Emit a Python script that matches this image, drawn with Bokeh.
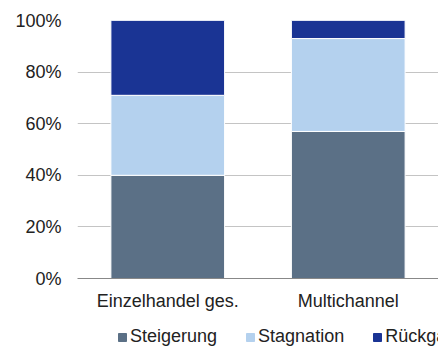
from bokeh.plotting import figure
from bokeh.layouts import column
from bokeh.models import FactorRange, Range1d, Legend, LegendItem, FixedTicker, NumeralTickFormatter, ColumnDataSource
from bokeh.embed import file_html
from bokeh.resources import INLINE

categories = ["Einzelhandel ges.", "Multichannel"]
series = ["Steigerung", "Stagnation", "Rückgang"]
steigerung = [0.40, 0.57]
stagnation = [0.31, 0.36]
rueckgang = [0.29, 0.07]
colors = ["#5B7086", "#B4D1EE", "#1A3494"]
y_ticks = [0, 0.2, 0.4, 0.6, 0.8, 1.0]

src = ColumnDataSource(dict(cat=categories, Steigerung=steigerung, Stagnation=stagnation, Rückgang=rueckgang))

p = figure(width=438, height=313,
           x_range=FactorRange(*categories, range_padding=0),
           y_range=(0, 1), output_backend="svg", toolbar_location=None,
           min_border_left=77, min_border_right=0, min_border_top=20, min_border_bottom=0)
p.outline_line_color = None

rs = p.vbar_stack(series, x="cat", width=0.63, source=src, color=colors,
                  line_color="white", line_width=1)

p.yaxis.ticker = FixedTicker(ticks=y_ticks)
p.yaxis.formatter = NumeralTickFormatter(format="0%")
p.yaxis.axis_line_color = None
p.yaxis.major_tick_line_color = None
p.yaxis.minor_tick_line_color = None
p.yaxis.major_tick_out = 0
p.yaxis.major_tick_in = 0
p.yaxis.major_label_text_font = "Liberation Sans"
p.yaxis.major_label_text_font_size = "18px"
p.yaxis.major_label_text_color = "#222222"
p.yaxis.major_label_standoff = 16

p.xaxis.axis_line_color = "#888888"
p.xaxis.major_tick_line_color = None
p.xaxis.minor_tick_line_color = None
p.xaxis.major_tick_out = 0
p.xaxis.major_tick_in = 0
p.xaxis.major_label_text_font = "Liberation Sans"
p.xaxis.major_label_text_font_size = "18px"
p.xaxis.major_label_text_color = "#222222"
p.xaxis.major_label_standoff = 12

p.xgrid.grid_line_color = None
p.ygrid.grid_line_color = "#C4C4C4"
p.ygrid.grid_line_width = 1

# legend strip as its own small figure below the chart
lf = figure(width=438, height=36, x_range=Range1d(0, 1), y_range=Range1d(0, 1),
            output_backend="svg", toolbar_location=None,
            x_axis_type=None, y_axis_type=None,
            min_border_left=0, min_border_right=0, min_border_top=0, min_border_bottom=0)
lf.outline_line_color = None
lf.xgrid.grid_line_color = None
lf.ygrid.grid_line_color = None
nan = float("nan")
lrs = [lf.vbar(x=[nan], top=[nan], width=0.5, fill_color=c, line_color=c) for c in colors]

legend = Legend(items=[LegendItem(label=s, renderers=[r]) for s, r in zip(series, lrs)],
                orientation="horizontal", location=(40, 2),
                label_text_font="Liberation Sans", label_text_font_size="18px",
                label_text_color="#222222", glyph_width=10, glyph_height=10,
                label_standoff=3, spacing=28, padding=0, margin=0,
                border_line_color=None, background_fill_alpha=0)
lf.add_layout(legend)

layout = column(p, lf, spacing=0)
open("out.html", "w").write(file_html(layout, INLINE))
